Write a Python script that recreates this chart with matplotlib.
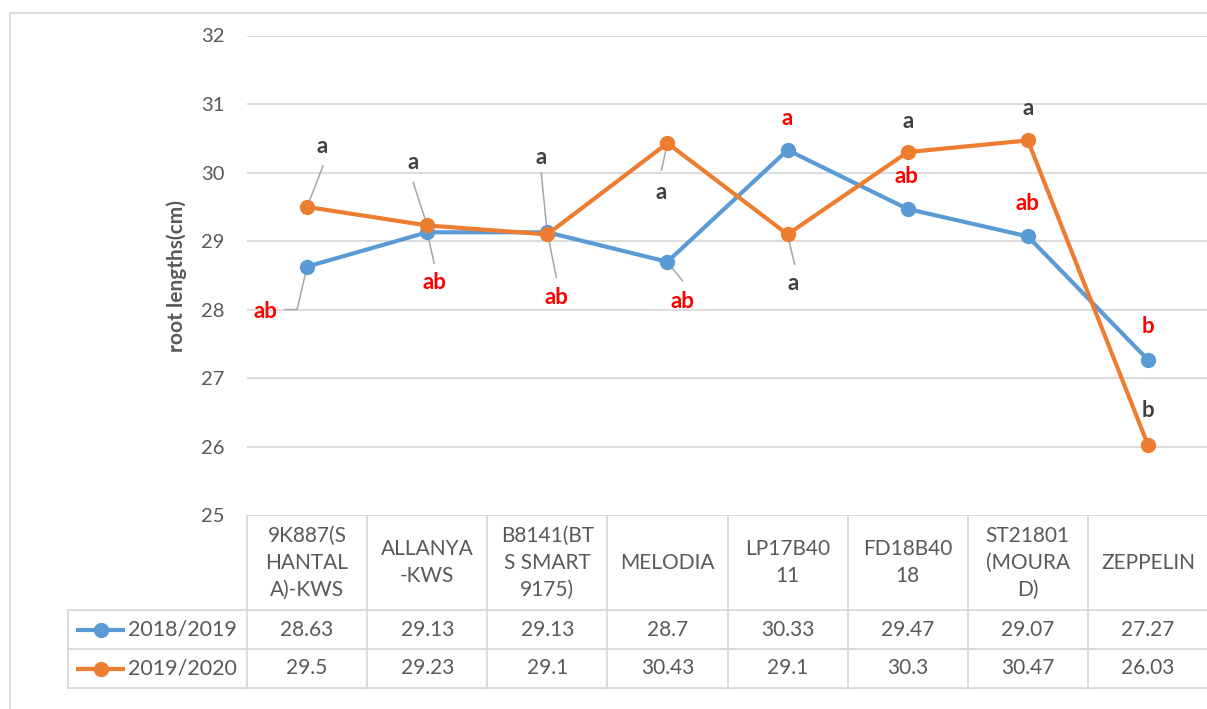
import matplotlib.pyplot as plt
import matplotlib.transforms as mtransforms
from matplotlib.lines import Line2D

plt.rcParams['font.family'] = ['Lato', 'DejaVu Sans']

# varieties (as wrapped in the data table header)
varieties = ["9K887(S\nHANTAL\nA)-KWS", "ALLANYA\n-KWS", "B8141(BT\nS SMART\n9175)", "MELODIA",
             "LP17B40\n11", "FD18B40\n18", "ST21801\n(MOURA\nD)", "ZEPPELIN"]
seasons = ["2018/2019", "2019/2020"]
roots_1819 = [28.63, 29.13, 29.13, 28.7, 30.33, 29.47, 29.07, 27.27]
roots_1920 = [29.5, 29.23, 29.1, 30.43, 29.1, 30.3, 30.47, 26.03]
letters_1819 = ["ab", "ab", "ab", "ab", "a", "ab", "ab", "b"]
letters_1920 = ["a", "a", "a", "a", "a", "a", "a", "b"]

# label offsets in pixels from the point, and leader line vertices
off_1819 = [(-42, -45), (7, -50), (9, -65), (15, -40), (0, 32), (-1, 32), (0, 33), (0, 33)]
lead_1819 = [[(0, 0), (-10, -43), (-22, -43)], [(0, 0), (7, -31)], [(0, 0), (9, -45)],
             [(0, 0), (15, -19)], None, None, None, None]
off_1920 = [(15, 60), (-14, 63), (-6, 77), (-6, -49), (6, -49), (0, 31), (0, 32), (0, 34)]
lead_1920 = [[(0, 0), (16, 41)], [(0, 0), (-14, 43)], [(0, 0), (-6, 61)], [(0, 0), (-6, -27)],
             [(0, 0), (7, -30)], None, None, None]

blue = "#5B9BD5"
orange = "#ED7D31"
grid_c = "#D9D9D9"
txt_c = "#595959"
W, H = 1207, 709

fig = plt.figure(figsize=(W / 100, H / 100), dpi=100)
ax = fig.add_axes([247 / W, 1 - 515.5 / H, 961 / W, 480 / H])

x = list(range(len(varieties)))
ax.set_xlim(-0.5, len(varieties) - 0.5)
ax.set_ylim(25, 32)
ax.set_yticks(range(25, 33))
ax.yaxis.grid(True, color=grid_c, linewidth=1.3)
ax.set_axisbelow(True)
ax.set_xticks([])
for s in ax.spines.values():
    s.set_visible(False)
ax.tick_params(axis='y', length=0, pad=16, labelsize=14.5, labelcolor=txt_c)
ax.set_ylabel("root lengths(cm)", fontsize=15, fontweight='bold', color=txt_c)
ax.yaxis.set_label_coords(-0.062, 0.5)

series = [(roots_1819, letters_1819, off_1819, lead_1819, blue, "#FF0000"),
          (roots_1920, letters_1920, off_1920, lead_1920, orange, "#404040")]

for vals, lets, offs, leads, col, lcol in series:
    ax.plot(x, vals, color=col, linewidth=3, marker='o', markersize=10, zorder=4, clip_on=False)

# data labels with leader lines
for vals, lets, offs, leads, col, lcol in series:
    for i, v in enumerate(vals):
        X, Y = ax.transData.transform((i, v))
        if leads[i] is not None:
            pts = [ax.transData.inverted().transform((X + dx, Y + dy)) for dx, dy in leads[i]]
            ax.plot([p[0] for p in pts], [p[1] for p in pts], color="#A6A6A6", linewidth=1.1,
                    zorder=3, clip_on=False)
        ax.annotate(lets[i], xy=(i, v), xytext=offs[i], textcoords='offset pixels',
                    ha='center', va='center', fontsize=16, fontweight='bold', color=lcol,
                    zorder=6, annotation_clip=False)

# data table below the axis
tr = mtransforms.blended_transform_factory(ax.transData, fig.transFigure)
fy = lambda px: 1 - px / H
y_top, y_h, y_r1, y_r2 = 515.5, 610, 649, 688
for k in range(len(varieties) + 1):
    fig.add_artist(Line2D([k - 0.5, k - 0.5], [fy(y_top), fy(y_r2)], transform=tr,
                          color=grid_c, linewidth=1.3))
for yy in (y_h, y_r1, y_r2):
    fig.add_artist(Line2D([68 / W, 1], [fy(yy), fy(yy)], transform=fig.transFigure,
                          color=grid_c, linewidth=1.3))
fig.add_artist(Line2D([68 / W, 68 / W], [fy(y_h), fy(y_r2)], transform=fig.transFigure,
                      color=grid_c, linewidth=1.3))

for i, name in enumerate(varieties):
    fig.text(i, fy((y_top + y_h) / 2), name, transform=tr, ha='center', va='center',
             fontsize=15, color=txt_c, linespacing=1.45)
for row, (vals, col, nm) in enumerate([(roots_1819, blue, seasons[0]), (roots_1920, orange, seasons[1])]):
    yc = fy([(y_h + y_r1) / 2, (y_r1 + y_r2) / 2][row])
    for i, v in enumerate(vals):
        fig.text(i, yc, f"{v:g}", transform=tr, ha='center', va='center', fontsize=15, color=txt_c)
    fig.add_artist(Line2D([76 / W, 125 / W], [yc, yc], transform=fig.transFigure, color=col,
                          linewidth=3, solid_capstyle='butt'))
    fig.add_artist(Line2D([100.5 / W], [yc], transform=fig.transFigure, color=col,
                          marker='o', markersize=10))
    fig.text(128 / W, yc, nm, ha='left', va='center', fontsize=15.5, color=txt_c)

# chart area border
fig.add_artist(Line2D([10 / W, 10 / W, 1], [0, fy(13), fy(13)], transform=fig.transFigure,
                      color=grid_c, linewidth=1.3))

fig.savefig("out.png", dpi=100, facecolor="white")
